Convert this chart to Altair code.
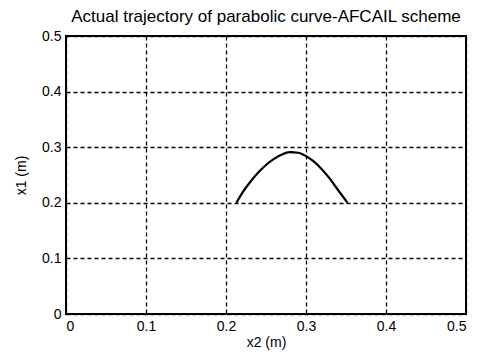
import altair as alt
import pandas as pd

x2_vals = [0.213, 0.220, 0.230, 0.240, 0.250, 0.260, 0.270, 0.280, 0.290, 0.300, 0.310, 0.320, 0.330, 0.340, 0.352]
x1_vals = [0.200, 0.217, 0.237, 0.254, 0.268, 0.279, 0.287, 0.291, 0.290, 0.284, 0.274, 0.260, 0.243, 0.223, 0.200]
ticks = [0, 0.1, 0.2, 0.3, 0.4, 0.5]

df = pd.DataFrame({"x2": x2_vals, "x1": x1_vals, "order": list(range(len(x2_vals)))})

FONT = "Liberation Sans"

chart = alt.Chart(df).mark_line(color="black", strokeWidth=2.2, interpolate="monotone").encode(
    x=alt.X("x2:Q", scale=alt.Scale(domain=[0, 0.5], nice=False, zero=False),
            axis=alt.Axis(values=ticks, title="x2 (m)", format="~g", grid=True)),
    y=alt.Y("x1:Q", scale=alt.Scale(domain=[0, 0.5], nice=False, zero=False),
            axis=alt.Axis(values=ticks, title="x1 (m)", format="~g", grid=True)),
    order="order:Q",
).properties(
    width=400, height=278,
    title=alt.TitleParams("Actual trajectory of parabolic curve-AFCAIL scheme",
                          font=FONT, fontSize=17, fontWeight="normal", color="black",
                          anchor="middle", offset=3),
    autosize=alt.AutoSizeParams(type="none"),
    padding={"left": 66, "top": 36, "right": 12, "bottom": 44},
    background="white",
).configure_axis(
    labelFont=FONT, labelFontSize=14, labelColor="black",
    titleFont=FONT, titleFontSize=14, titleColor="black", titleFontWeight="normal",
    domain=False, ticks=False, labelPadding=5,
    gridColor="black", gridDash=[4, 3], gridWidth=1.3, gridOpacity=1,
).configure_axisX(titlePadding=2).configure_axisY(titlePadding=13).configure_view(
    stroke="black", strokeWidth=2
)

chart.save("out.html", embed_options={"renderer": "svg", "actions": False})
